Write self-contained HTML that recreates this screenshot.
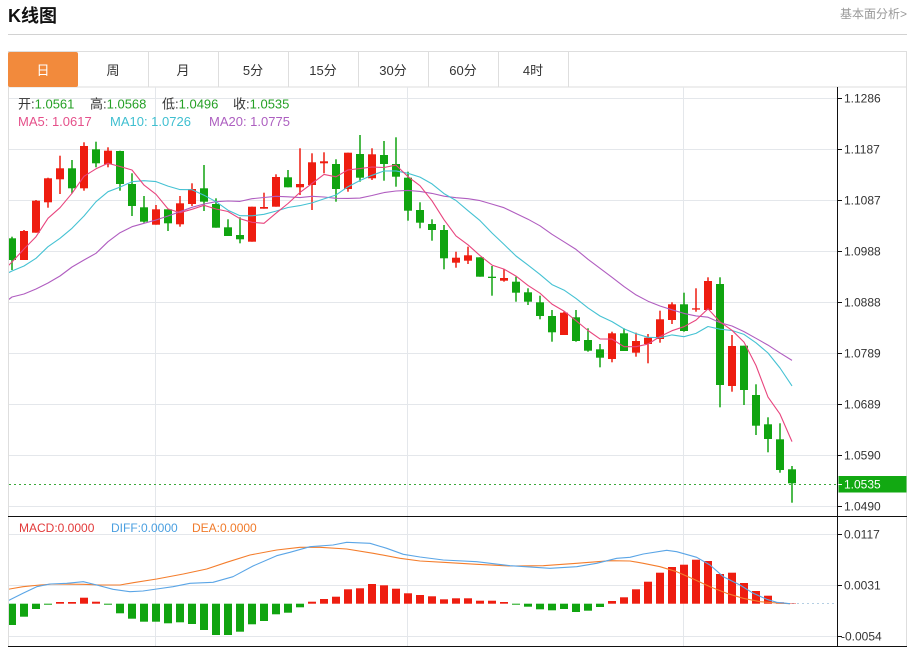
<!DOCTYPE html>
<html><head><meta charset="utf-8"><style>
html,body{margin:0;padding:0;background:#fff;width:914px;height:647px;overflow:hidden}
svg{display:block;font-family:"Liberation Sans","Noto Sans CJK SC",sans-serif}
</style></head><body>
<svg id="s" width="914" height="647" viewBox="0 0 914 647" xmlns="http://www.w3.org/2000/svg">
<defs>
<clipPath id="cm"><rect x="9" y="87" width="828" height="429"/></clipPath>
<clipPath id="cd"><rect x="9" y="517" width="828" height="129"/></clipPath>
</defs>
<text x="8" y="22" font-size="18" font-weight="bold" fill="#111">K线图</text>
<text x="907" y="18" font-size="12" fill="#999" text-anchor="end">基本面分析&gt;</text>
<line x1="8" y1="34.5" x2="907" y2="34.5" stroke="#d2d2d2"/>
<rect x="8.5" y="51.5" width="898" height="35.5" fill="#fff" stroke="#dedede"/>
<rect x="8" y="52" width="70" height="35" rx="2" fill="#f28a3c"/>
<g stroke="#dedede">
<line x1="148.5" y1="52" x2="148.5" y2="87"/><line x1="218.5" y1="52" x2="218.5" y2="87"/>
<line x1="288.5" y1="52" x2="288.5" y2="87"/><line x1="358.5" y1="52" x2="358.5" y2="87"/>
<line x1="428.5" y1="52" x2="428.5" y2="87"/><line x1="498.5" y1="52" x2="498.5" y2="87"/>
<line x1="568.5" y1="52" x2="568.5" y2="87"/>
</g>
<g font-size="13" fill="#333" text-anchor="middle">
<text x="43" y="75" fill="#fff">日</text><text x="113" y="75">周</text><text x="183" y="75">月</text>
<text x="253" y="75">5分</text><text x="323" y="75">15分</text><text x="393" y="75">30分</text>
<text x="463" y="75">60分</text><text x="533" y="75">4时</text>
</g>
<!-- frame -->
<line x1="8.5" y1="87" x2="8.5" y2="646" stroke="#dedede"/>
<line x1="906.5" y1="87" x2="906.5" y2="647" stroke="#dedede"/>
<!-- grid -->
<g stroke="#e4e7eb">
<line x1="9" y1="98.5" x2="837" y2="98.5"/><line x1="9" y1="149.5" x2="837" y2="149.5"/>
<line x1="9" y1="200.5" x2="837" y2="200.5"/><line x1="9" y1="251.5" x2="837" y2="251.5"/>
<line x1="9" y1="302.5" x2="837" y2="302.5"/><line x1="9" y1="353.5" x2="837" y2="353.5"/>
<line x1="9" y1="404.5" x2="837" y2="404.5"/><line x1="9" y1="455.5" x2="837" y2="455.5"/>
<line x1="9" y1="506.5" x2="837" y2="506.5"/>
<line x1="9" y1="534.5" x2="837" y2="534.5"/><line x1="9" y1="585.5" x2="837" y2="585.5"/>
<line x1="9" y1="636.5" x2="837" y2="636.5"/>
<line x1="155.5" y1="87" x2="155.5" y2="646"/><line x1="407.5" y1="87" x2="407.5" y2="646"/>
<line x1="683.5" y1="87" x2="683.5" y2="646"/>
</g>
<line x1="9" y1="484.5" x2="837" y2="484.5" stroke="#3aaa3a" stroke-dasharray="2 3"/>
<line x1="792" y1="603.5" x2="837" y2="603.5" stroke="#b5cfe3" stroke-dasharray="2 3"/>
<g id="pm" clip-path="url(#cm)"></g>
<g id="pd" clip-path="url(#cd)"></g>
<!-- axes -->
<line x1="837.5" y1="87" x2="837.5" y2="646" stroke="#111"/>
<line x1="8" y1="516.5" x2="907" y2="516.5" stroke="#111"/>
<line x1="8" y1="646.5" x2="907" y2="646.5" stroke="#111"/>
<g stroke="#111">
<line x1="837" y1="98.5" x2="842" y2="98.5"/><line x1="837" y1="149.5" x2="842" y2="149.5"/>
<line x1="837" y1="200.5" x2="842" y2="200.5"/><line x1="837" y1="251.5" x2="842" y2="251.5"/>
<line x1="837" y1="302.5" x2="842" y2="302.5"/><line x1="837" y1="353.5" x2="842" y2="353.5"/>
<line x1="837" y1="404.5" x2="842" y2="404.5"/><line x1="837" y1="455.5" x2="842" y2="455.5"/>
<line x1="837" y1="506.5" x2="842" y2="506.5"/>
<line x1="837" y1="534.5" x2="842" y2="534.5"/><line x1="837" y1="585.5" x2="842" y2="585.5"/>
<line x1="837" y1="636.5" x2="842" y2="636.5"/>
</g>
<g font-size="12" fill="#333">
<text x="844" y="102.5">1.1286</text><text x="844" y="153.5">1.1187</text>
<text x="844" y="204.5">1.1087</text><text x="844" y="255.5">1.0988</text>
<text x="844" y="306.5">1.0888</text><text x="844" y="357.5">1.0789</text>
<text x="844" y="408.5">1.0689</text><text x="844" y="459.5">1.0590</text>
<text x="844" y="510.5">1.0490</text>
<text x="844" y="538.5">0.0117</text><text x="844" y="589.5">0.0031</text>
<text x="841" y="640.5">-0.0054</text>
</g>
<rect x="838.5" y="476" width="68" height="16.5" fill="#12a912"/>
<line x1="838" y1="484.5" x2="842" y2="484.5" stroke="#fff"/>
<text x="844" y="488.5" font-size="12" fill="#fff">1.0535</text>
<!-- legends -->
<g font-size="13">
<text x="18" y="108.5" fill="#333">开:<tspan fill="#25a025">1.0561</tspan></text>
<text x="90" y="108.5" fill="#333">高:<tspan fill="#25a025">1.0568</tspan></text>
<text x="162" y="108.5" fill="#333">低:<tspan fill="#25a025">1.0496</tspan></text>
<text x="233" y="108.5" fill="#333">收:<tspan fill="#25a025">1.0535</tspan></text>
<text x="18" y="126" fill="#e5508a">MA5: 1.0617</text>
<text x="110" y="126" fill="#3fbfd0">MA10: 1.0726</text>
<text x="209" y="126" fill="#ad5fc0">MA20: 1.0775</text>
</g>
<g font-size="12">
<text x="19" y="532" fill="#e23a3a">MACD:0.0000</text>
<text x="111" y="532" fill="#4a9fe0">DIFF:0.0000</text>
<text x="192" y="532" fill="#f07a2a">DEA:0.0000</text>
</g>
</svg>
<script>
(function(){
const NS="http://www.w3.org/2000/svg";
const pm=document.getElementById('pm'),pd=document.getElementById('pd');
function el(tag,a,p){const e=document.createElementNS(NS,tag);for(const k in a)e.setAttribute(k,a[k]);p.appendChild(e);return e;}
const RED="#ee1d10",GREEN="#10a410";
const C=[
[0,238.3,260,236.7,270],[1,231,260,230,260],[1,200.7,232.7,200,232.7],[1,178.3,202.3,177.7,207.7],
[1,168.3,179.3,155.7,194],[0,168.3,188.3,160,193.3],[1,146,188.3,142.3,190.7],[0,149.3,163.3,141.7,167.3],
[1,150.7,164.3,147.3,167.3],[0,151,184,150.7,190.7],[0,184,206,173.3,216],[0,207.3,221.7,196,222.7],
[1,209.3,224.7,205,224.7],[0,209.3,223.3,209.3,231],[1,203.3,224.3,196,226.7],[1,189,204,183.3,206],
[0,188.3,201.7,165,211],[0,204,227.7,198.3,227.7],[0,227.3,236,219.3,236],[0,235,239.3,217.3,243.3],
[1,206.7,241.7,206.7,241.7],[1,207,208.7,192.7,208.7],[1,177,206.7,174.3,206.7],[0,177.3,187.3,170,187.3],
[1,184,187.3,148.3,195],[1,162.3,185,153.3,210],[1,161.3,163.3,152.3,173.3],[0,164,189,159.3,201.7],
[1,152.7,189,152.7,191.7],[0,154,177.7,135,181.7],[1,154.3,178.3,148.3,180],[0,155,164,141,180.7],
[0,164,176.7,137.3,186.7],[0,177.7,210.7,171.7,220.7],[0,210,222.7,202.3,228.3],[0,224,230,219.3,240.7],
[0,230,258.3,225,269.3],[1,257.7,262.7,251.7,267.7],[1,255.3,260.7,246.7,264],[0,257.3,276.7,257.3,276.7],
[0,276.7,277.7,266,295.7],[1,278,280.7,269,281.7],[0,281.7,292.7,276.7,301.7],[0,292.3,301.7,288.3,305],
[0,302.3,316,295.7,319.3],[0,316,332.3,310,341.7],[1,312.7,335,311.7,335],[0,317.3,341,310,341.7],
[0,340,350.7,328.3,351.7],[0,349.3,357.7,344,367.3],[1,333.3,359,331.7,362.3],[0,333.3,351,328.3,351],
[1,341,352.7,332.7,356.7],[1,337.7,344,334,363.3],[1,319.3,339,310.7,342.7],[1,304.3,320,302.3,324],
[0,304.3,331,292.7,331.7],[1,308.3,309.3,288.3,311.7],[1,281,310,277.3,310],[0,284,385,277.3,407.3],
[1,346,386,335,391.7],[0,345.7,390,345.7,405],[0,395,425.7,384.3,435],[0,424.3,439,417.3,452.3],
[0,439.3,470,423.3,472.7],[0,469.3,483.3,466,502.7]];
C.forEach((c,i)=>{const x=12+12*i,col=c[0]?RED:GREEN;
 el('rect',{x:x-0.75,y:c[3],width:1.5,height:Math.max(c[4]-c[3],1),fill:col},pm);
 el('rect',{x:x-4,y:c[1],width:8,height:Math.max(c[2]-c[1],1.3),fill:col},pm);
});
const close=C.map(c=>c[0]?c[1]:c[2]);
function ma(n,early){return close.map((v,i)=>{if(i<n-1)return early[i];let s=0;for(let k=i-n+1;k<=i;k++)s+=close[k];return s/n;});}
function pl(pts,col,p){el('polyline',{points:pts.map(q=>q[0].toFixed(1)+','+q[1].toFixed(1)).join(' '),fill:'none',stroke:col,'stroke-width':1.1,'stroke-linejoin':'round'},p);}
const m5=ma(5,[262,249,236.7,218.3]);
const m10=ma(10,[271,266,258.3,246.7,238.3,228.3,216,201.7,191.7]);
const m20=ma(20,[297,294,289,283,276,267,260,253.3,241.7,232.7,226.7,223.3,220,216,211.7,207.3,204,201.7,201]);
pl([[8,300]].concat(m20.map((y,i)=>[12+12*i,y])),'#b05dc0',pm);
pl([[8,273]].concat(m10.map((y,i)=>[12+12*i,y])),'#45c2d3',pm);
pl([[8,266]].concat(m5.map((y,i)=>[12+12*i,y])),'#e8457e',pm);
const Z=603.7;
const B=[625,616.7,609,604.5,602,602,597.7,601.7,604.7,613.3,618.7,621.7,621.7,623.3,622.3,624,630,635,635,631.7,
624.3,621,614.3,612.7,607.3,601.7,599,596.7,589.3,588.3,584,585.3,588.7,593.3,595,596.3,599.3,598.3,598.3,600.7,
600.7,602,604.3,606.7,609.3,610.3,609,612,610.7,607,601,597.3,589.3,581.7,572.7,567,564.7,559.7,561,574,
572.7,583,591,595.7,602.3,603.3];
B.forEach((y,i)=>{const x=12+12*i;
 if(y<Z) el('rect',{x:x-4,y:y,width:8,height:Z-y,fill:RED},pd);
 else el('rect',{x:x-4,y:Z,width:8,height:Math.max(y-Z,1),fill:GREEN},pd);
});
const DIF=[[8,600.7],[23,593.3],[36.7,586.7],[50,584],[66.7,583.3],[83.3,581.7],[96.7,585],[113,589.3],[130,591.7],[143,591],[156.7,589],[173,586.7],[190,583.3],[213,582.3],[233,576.7],[253,566],[276.7,555.7],[290,552.3],[310,546.7],[333,545],[346.7,542.3],[370,543.3],[386.7,548.3],[403.3,554.3],[420,557],[443.3,560],[476.7,561.7],[510,565.7],[550,568.3],[576.7,566.7],[596.7,563.3],[616.7,558.3],[630,557.3],[643.3,554],[666.7,550.3],[676.7,551.7],[696.7,557.3],[710,565],[723.3,576.7],[740,585],[753.3,593.3],[766.7,599.3],[776.7,602.3],[790,603.7]];
const DEA=[[8,589.3],[23,586.7],[40,585],[53.3,584],[83.3,584.3],[100,585],[120,585],[133.3,582.7],[156.7,579],[183.3,574],[206.7,569],[226.7,562.3],[250,555],[276.7,550],[300,547.3],[320,547.3],[346.7,549],[373.3,553.3],[400,558.3],[420,561],[443.3,562.3],[476.7,564.3],[510,566],[543.3,565.7],[576.7,563.3],[610,560.7],[630,561],[643.3,563.3],[660,566.7],[676.7,571.7],[693.3,579],[710,586.7],[726.7,593.3],[743.3,598.3],[760,601.7],[776.7,603],[790,603.7]];
pl(DEA,'#f47d2c',pd);
pl(DIF,'#5aa5e6',pd);
})();
</script>
</body></html>
